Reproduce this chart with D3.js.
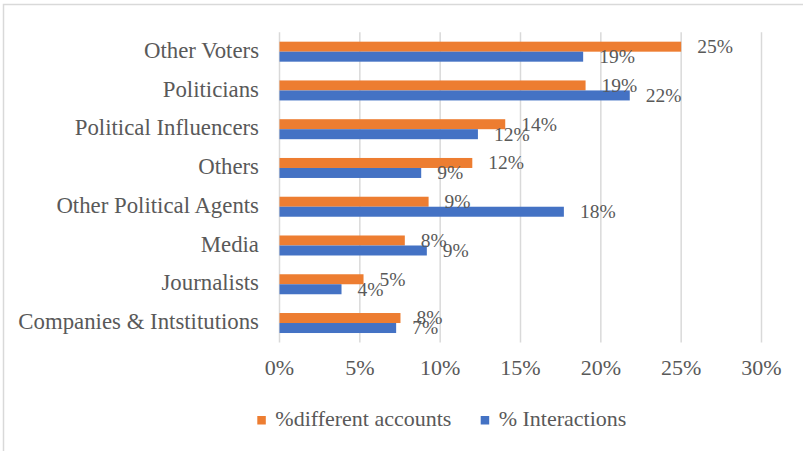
<!DOCTYPE html>
<html>
<head>
<meta charset="utf-8">
<script src="https://cdn.jsdelivr.net/npm/d3@7"></script>
<style>
  body { margin: 0; background: #fff; }
</style>
</head>
<body>
<div id="chart"></div>
<script>
// categories top to bottom
const categories = ['Other Voters', 'Politicians', 'Political Influencers', 'Others',
    'Other Political Agents', 'Media', 'Journalists', 'Companies & Intstitutions'];
const seriesNames = ['%different accounts', '% Interactions'];
const seriesColors = ['#ED7D31', '#4472C4'];
// values
const differentAccounts = [0.250, 0.1905, 0.1405, 0.120, 0.0928, 0.078, 0.0523, 0.0753];
const interactions = [0.189, 0.218, 0.1235, 0.0882, 0.177, 0.0917, 0.0386, 0.0726];
const xTicks = [0, 0.05, 0.10, 0.15, 0.20, 0.25, 0.30];

const width = 803, height = 451;
const plot = { left: 279.5, right: 761.5, top: 32.3, bottom: 342.4 };
const font = "'Liberation Serif', 'Times New Roman', Times, serif";
const textColor = '#595959';

const svg = d3.select('#chart').append('svg')
    .attr('width', width)
    .attr('height', height)
    .attr('font-family', font);

// chart border
svg.append('rect')
    .attr('x', 3.5).attr('y', 4.5)
    .attr('width', width + 10).attr('height', height + 10)
    .attr('fill', 'none')
    .attr('stroke', '#D9D9D9')
    .attr('stroke-width', 1.5);

const x = d3.scaleLinear().domain([0, 0.30]).range([plot.left, plot.right]);
const y = d3.scaleBand().domain(categories).range([plot.top, plot.bottom]);
const barH = 10;
const y1 = d3.scaleBand().domain(seriesNames)
    .range([y.bandwidth() / 2 - barH, y.bandwidth() / 2 + barH]);

// vertical gridlines
svg.append('g').selectAll('line')
    .data(xTicks)
    .enter().append('line')
    .attr('x1', d => x(d)).attr('x2', d => x(d))
    .attr('y1', plot.top).attr('y2', plot.bottom)
    .attr('stroke', '#D9D9D9')
    .attr('stroke-width', 1.5);

// x tick labels
svg.append('g').selectAll('text')
    .data(xTicks)
    .enter().append('text')
    .attr('x', d => x(d))
    .attr('y', 370)
    .attr('text-anchor', 'middle')
    .attr('dominant-baseline', 'middle')
    .attr('font-family', font)
    .attr('font-size', 22)
    .attr('fill', textColor)
    .text(d3.format('.0%'));

// category labels
svg.append('g').selectAll('text')
    .data(categories)
    .enter().append('text')
    .attr('x', 259)
    .attr('y', d => y(d) + y.bandwidth() / 2 + 1)
    .attr('text-anchor', 'end')
    .attr('dominant-baseline', 'middle')
    .attr('font-family', font)
    .attr('font-size', 22.8)
    .attr('fill', textColor)
    .text(d => d);

const rows = [];
categories.forEach((c, i) => {
    rows.push({ cat: c, s: seriesNames[0], v: differentAccounts[i], color: seriesColors[0] });
    rows.push({ cat: c, s: seriesNames[1], v: interactions[i], color: seriesColors[1] });
});

// bars
svg.append('g').selectAll('rect')
    .data(rows)
    .enter().append('rect')
    .attr('x', x(0))
    .attr('y', d => y(d.cat) + y1(d.s))
    .attr('width', d => x(d.v) - x(0))
    .attr('height', y1.bandwidth())
    .attr('fill', d => d.color);

// data labels (they overlap in the original too)
svg.append('g').selectAll('text')
    .data(rows)
    .enter().append('text')
    .attr('x', d => x(d.v) + 16)
    .attr('y', d => y(d.cat) + y1(d.s) + y1.bandwidth() / 2 + 2)
    .attr('dominant-baseline', 'middle')
    .attr('font-family', font)
    .attr('font-size', 19.5)
    .attr('fill', textColor)
    .text(d => d3.format('.0%')(d.v));

// legend
const legendX = [257.3, 480.7];
const legend = svg.append('g').selectAll('g')
    .data(seriesNames)
    .enter().append('g')
    .attr('transform', (d, i) => `translate(${legendX[i]},416)`);
legend.append('rect')
    .attr('width', 8.5).attr('height', 8.5)
    .attr('fill', (d, i) => seriesColors[i]);
legend.append('text')
    .attr('x', 18)
    .attr('y', 4.5)
    .attr('dominant-baseline', 'middle')
    .attr('font-family', font)
    .attr('font-size', 22)
    .attr('fill', textColor)
    .text(d => d);
</script>
</body>
</html>
